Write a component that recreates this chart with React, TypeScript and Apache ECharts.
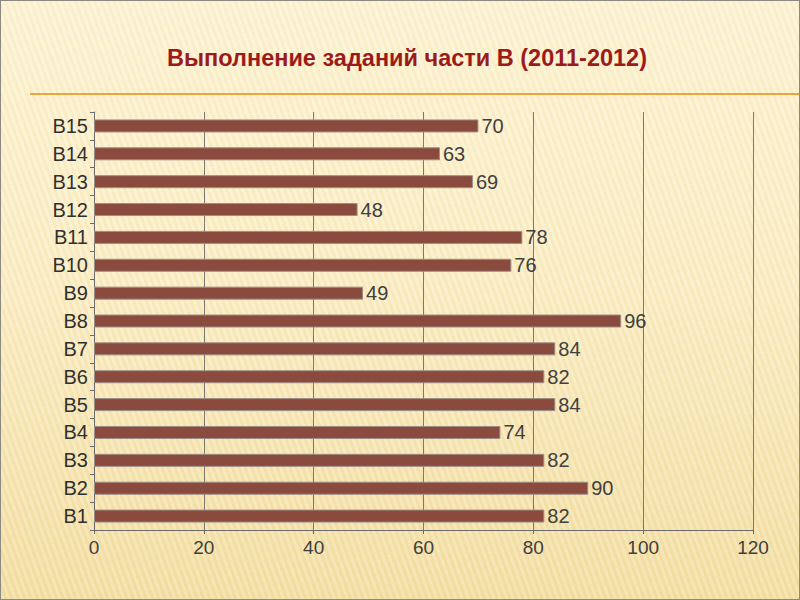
import React, { useEffect, useRef } from "react";
import * as echarts from "echarts";

const categories = ["B1", "B2", "B3", "B4", "B5", "B6", "B7", "B8", "B9", "B10", "B11", "B12", "B13", "B14", "B15"];
const values = [82, 90, 82, 74, 84, 82, 84, 96, 49, 76, 78, 48, 69, 63, 70];
const titleText = "Выполнение заданий части В (2011-2012)";

export default function App() {
  const ref = useRef<HTMLDivElement>(null);
  useEffect(() => {
    document.body.style.margin = "0";
    const chart = echarts.init(ref.current!, null, { renderer: "svg" });
    chart.setOption({
      animation: false,
      backgroundColor: "transparent",
      graphic: [
        {
          type: "text",
          x: 406,
          y: 57,
          style: {
            text: titleText,
            font: "bold 23.5px 'Liberation Sans', Arial, sans-serif",
            fill: "#9B1B1B",
            align: "center",
            verticalAlign: "middle",
          },
        },
        {
          type: "line",
          shape: { x1: 29, y1: 93, x2: 800, y2: 93 },
          style: { stroke: "#E9A63C", lineWidth: 2 },
        },
      ],
      grid: { left: 93, right: 46, top: 111, bottom: 69, containLabel: false },
      xAxis: {
        type: "value",
        min: 0,
        max: 120,
        interval: 20,
        axisLine: { show: true, lineStyle: { color: "#6b6b6b", width: 1 } },
        axisTick: { show: true, length: 4, lineStyle: { color: "#6b6b6b" } },
        axisLabel: {
          color: "#404040",
          fontSize: 19,
          fontFamily: "'Liberation Sans', Arial, sans-serif",
          margin: 8,
        },
        splitLine: { show: true, lineStyle: { color: "#7a7a70", width: 1 } },
      },
      yAxis: {
        type: "category",
        data: categories,
        axisLine: { show: true, lineStyle: { color: "#6b6b6b", width: 1 } },
        axisTick: { show: true, length: 4, lineStyle: { color: "#6b6b6b" } },
        axisLabel: {
          color: "#303030",
          fontSize: 20,
          fontFamily: "'Liberation Sans', Arial, sans-serif",
          margin: 6,
        },
      },
      series: [
        {
          type: "bar",
          data: values,
          barWidth: 13,
          itemStyle: { color: "#8A4A3E", borderColor: "#9a8f88", borderWidth: 1 },
          label: {
            show: true,
            position: "right",
            distance: 3,
            color: "#404040",
            fontSize: 20,
            fontFamily: "'Liberation Sans', Arial, sans-serif",
          },
        },
      ],
    });
    return () => chart.dispose();
  }, []);
  return (
    <div
      style={{
        position: "fixed",
        left: 0,
        top: 0,
        width: 800,
        height: 600,
        boxSizing: "border-box",
        border: "1px solid #8a8a80",
        background:
          "repeating-linear-gradient(70deg, rgba(255,255,255,0.18) 0px, rgba(255,255,255,0.18) 3px, rgba(220,190,110,0.08) 3px, rgba(220,190,110,0.08) 6px), linear-gradient(180deg, #FDF3D3 0%, #FBEDC4 45%, #F3DEA2 100%)",
      }}
    >
      <div ref={ref} style={{ width: 798, height: 598 }} />
    </div>
  );
}
